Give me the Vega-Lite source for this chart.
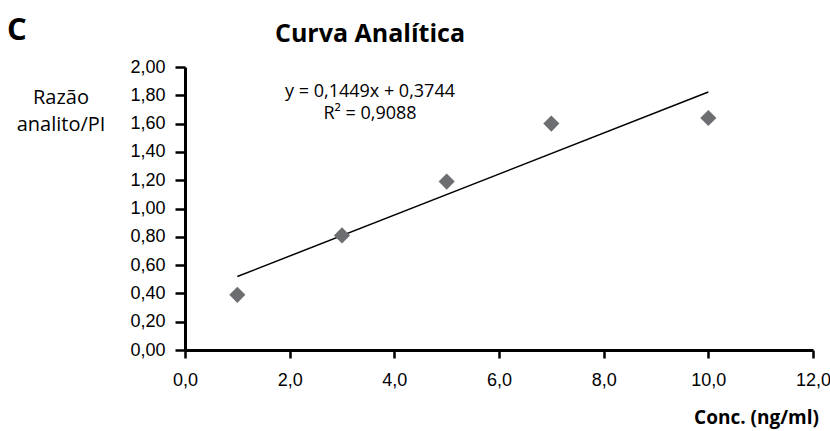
{
  "$schema": "https://vega.github.io/schema/vega-lite/v6.json",
  "width": 628,
  "height": 283,
  "autosize": {"type": "none"},
  "padding": {"left": 185, "top": 67, "right": 17, "bottom": 81},
  "background": "white",
  "config": {"view": {"stroke": null}, "axis": {"grid": false}},
  "datasets": {
    "points": [
      {"conc": 1, "ratio": 0.39},
      {"conc": 3, "ratio": 0.81},
      {"conc": 5, "ratio": 1.19},
      {"conc": 7, "ratio": 1.60},
      {"conc": 10, "ratio": 1.64}
    ],
    "trend": [
      {"conc": 1, "ratio": 0.5193},
      {"conc": 10, "ratio": 1.8234}
    ],
    "equation": [
      {"conc": 3.535, "ratio": 1.788, "label": "y = 0,1449x + 0,3744"},
      {"conc": 3.535, "ratio": 1.633, "label": "R² = 0,9088"}
    ],
    "heading": [
      {"conc": 3.535, "ratio": 2.177, "label": "Curva Analítica"}
    ],
    "panel": [
      {"conc": -3.401, "ratio": 2.191, "label": "C"}
    ]
  },
  "encoding": {
    "x": {
      "field": "conc",
      "type": "quantitative",
      "scale": {"domain": [0, 12], "nice": false, "zero": false},
      "axis": {
        "values": [0, 2, 4, 6, 8, 10, 12],
        "labelExpr": "replace(format(datum.value, '.1f'), '.', ',')",
        "labelFont": "Liberation Sans",
        "labelFontSize": 18,
        "labelColor": "black",
        "labelPadding": 13,
        "tickSize": 8,
        "tickWidth": 2.5,
        "tickColor": "black",
        "domainColor": "black",
        "domainWidth": 3,
        "labelFlush": false,
        "labelOverlap": false,
        "title": "Conc. (ng/ml)",
        "titleFont": "Open Sans",
        "titleFontSize": 19,
        "titleFontWeight": "bold",
        "titleColor": "black",
        "titleAlign": "center",
        "titleAnchor": null,
        "titleBaseline": "alphabetic",
        "titleX": 571,
        "titleY": 73
      }
    },
    "y": {
      "field": "ratio",
      "type": "quantitative",
      "scale": {"domain": [0, 2], "nice": false, "zero": false},
      "axis": {
        "values": [0, 0.2, 0.4, 0.6, 0.8, 1.0, 1.2, 1.4, 1.6, 1.8, 2.0],
        "labelExpr": "replace(format(datum.value, '.2f'), '.', ',')",
        "labelFont": "Liberation Sans",
        "labelFontSize": 18,
        "labelColor": "black",
        "labelPadding": 10,
        "tickSize": 10,
        "tickWidth": 2.5,
        "tickColor": "black",
        "domainColor": "black",
        "domainWidth": 3,
        "labelFlush": false,
        "labelOverlap": false,
        "title": ["Razão", "analito/PI"],
        "titleFont": "Open Sans",
        "titleFontSize": 20,
        "titleFontWeight": "normal",
        "titleColor": "black",
        "titleAngle": 0,
        "titleAlign": "center",
        "titleAnchor": null,
        "titleBaseline": "alphabetic",
        "titleLineHeight": 27,
        "titleX": -124.5,
        "titleY": 36
      }
    }
  },
  "layer": [
    {
      "data": {"name": "trend"},
      "mark": {"type": "line", "color": "black", "strokeWidth": 1.5}
    },
    {
      "data": {"name": "points"},
      "mark": {"type": "point", "shape": "diamond", "filled": true, "size": 260, "color": "#6d6e71", "opacity": 1, "strokeWidth": 0}
    },
    {
      "data": {"name": "equation"},
      "mark": {"type": "text", "font": "Open Sans", "fontSize": 18, "align": "center", "baseline": "alphabetic", "color": "black"},
      "encoding": {"text": {"field": "label", "type": "nominal"}}
    },
    {
      "data": {"name": "heading"},
      "mark": {"type": "text", "font": "Open Sans", "fontSize": 25, "fontWeight": "bold", "align": "center", "baseline": "alphabetic", "color": "black"},
      "encoding": {"text": {"field": "label", "type": "nominal"}}
    },
    {
      "data": {"name": "panel"},
      "mark": {"type": "text", "font": "Open Sans", "fontSize": 31, "fontWeight": "bold", "align": "left", "baseline": "alphabetic", "color": "black"},
      "encoding": {"text": {"field": "label", "type": "nominal"}}
    }
  ]
}
